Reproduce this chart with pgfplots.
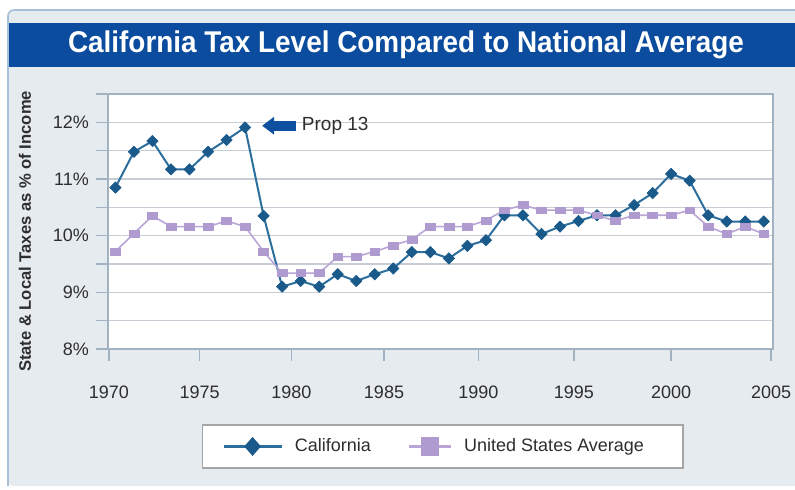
\documentclass[border=0pt]{standalone}
\usepackage{pgfplots}
\pgfplotsset{compat=1.18}
\usepackage{fontspec}
\setmainfont{Liberation Sans}
\usetikzlibrary{arrows.meta}
\definecolor{panelbg}{HTML}{E5EBEF}
\definecolor{panelborder}{HTML}{A7BFD8}
\definecolor{titleblue}{HTML}{0B4C9E}
\definecolor{gridc}{HTML}{C6CDD4}
\definecolor{axc}{HTML}{A3B2C0}
\definecolor{labelc}{HTML}{2E2E2E}
\definecolor{caline}{HTML}{2C6E9C}
\definecolor{camark}{HTML}{1A5A8A}
\definecolor{usline}{HTML}{B9A6D6}
\definecolor{usmark}{HTML}{B09BD0}
\definecolor{arrowc}{HTML}{0E4FA0}

\pgfplotstableread{
year ca
1970 10.85
1971 11.48
1972 11.67
1973 11.17
1974 11.17
1975 11.48
1976 11.69
1977 11.91
1978 10.35
1979 9.10
1980 9.20
1981 9.10
1982 9.32
1983 9.20
1984 9.32
1985 9.42
1986 9.71
1987 9.71
1988 9.60
1989 9.82
1990 9.92
1991 10.36
1992 10.36
1993 10.03
1994 10.16
1995 10.26
1996 10.36
1997 10.36
1998 10.54
1999 10.75
2000 11.09
2001 10.97
2002 10.36
2003 10.25
2004 10.25
2005 10.25
}\catable

\pgfplotstableread{
year us
1970 9.72
1971 10.04
1972 10.35
1973 10.16
1974 10.16
1975 10.16
1976 10.26
1977 10.16
1978 9.72
1979 9.34
1980 9.34
1981 9.34
1982 9.63
1983 9.63
1984 9.72
1985 9.83
1986 9.93
1987 10.16
1988 10.16
1989 10.16
1990 10.27
1991 10.45
1992 10.54
1993 10.45
1994 10.45
1995 10.45
1996 10.36
1997 10.26
1998 10.36
1999 10.36
2000 10.36
2001 10.45
2002 10.16
2003 10.03
2004 10.16
2005 10.03
}\ustable

\begin{document}
\begin{tikzpicture}
\useasboundingbox (0,0) rectangle (397.5pt,244.5pt);
\fill[white] (0,0) rectangle (397.5pt,244.5pt);
\fill[panelbg, rounded corners=3pt] (4pt,1.5pt) rectangle (402pt,239.5pt);
\draw[panelborder, line width=0.8pt, rounded corners=3pt] (4pt,1.5pt) -- (4pt,239.5pt) -- (402pt,239.5pt);
\fill[titleblue] (4.4pt,211.2pt) rectangle (397.5pt,233.2pt);
\node[text=white, font=\bfseries\fontsize{15}{17}\selectfont] at (203pt,222.2pt) {\scalebox{0.93}[1]{California Tax Level Compared to National Average}};
\node[rotate=90, text=labelc, font=\bfseries\fontsize{8.3}{9}\selectfont] at (12.5pt,128.8pt) {State \& Local Taxes as \% of Income};
% legend box
\filldraw[fill=white, draw=gray!70, line width=0.6pt] (101.3pt,10.5pt) rectangle (341.5pt,32pt);

\begin{axis}[
  at={(54pt,70pt)}, anchor=south west,
  scale only axis, width=332.5pt, height=127.5pt,
  xmin=1969.6, xmax=2005.5, ymin=8, ymax=12.5,
  xtick={1969.65,1974.55,1979.5,1984.5,1989.6,1994.75,2000,2005.4},
  xticklabels={1970,1975,1980,1985,1990,1995,2000,2005},
  ytick={8,8.5,...,12.5},
  yticklabels={8\%,,9\%,,10\%,,11\%,,12\%,},
  xtick pos=bottom, ytick pos=left,
  tick align=outside, major tick length=6pt,
  tick style={draw=axc, line width=0.8pt},
  ymajorgrids, grid style={draw=gridc, line width=0.8pt},
  axis background/.style={fill=white},
  axis line style={draw=axc, line width=0.8pt},
  ticklabel style={font=\fontsize{9}{10}\selectfont, text=labelc},
  xticklabel style={yshift=-9pt},
  legend columns=2,
  legend style={at={(0.1714,-0.382)}, anchor=west, draw=none, fill=none,
    inner sep=0pt, nodes={inner sep=0pt, font=\fontsize{9}{10}\selectfont, text=labelc},
    /tikz/every odd column/.append style={column sep=6pt},
    /tikz/every even column/.append style={column sep=18.5pt}},
]
\addplot[caline, line width=1pt, mark=square*, mark size=2pt,
  mark options={rotate=45, fill=camark, draw=camark, line width=0.3pt},
  legend image code/.code={\draw[caline, line width=1.2pt] (0pt,0pt) -- (29pt,0pt);
    \fill[camark] (14.5pt,0pt) +(0,4pt) -- +(3.5pt,0) -- +(0,-4pt) -- +(-3.5pt,0) -- cycle;}]
  table[x=year, y=ca] {\catable};
\addlegendentry{California}
\addplot[usline, line width=0.8pt, mark=square*, mark size=1.9pt,
  mark options={xscale=1.3, yscale=0.9, fill=usmark, draw=usmark, line width=0.2pt},
  legend image code/.code={\draw[usline, line width=1.2pt] (0pt,0pt) -- (21pt,0pt);
    \fill[usmark] (6.5pt,-4.5pt) rectangle (14.5pt,4.5pt);}]
  table[x=year, y=us] {\ustable};
\addlegendentry{United States Average}
\draw[arrowc, line width=5pt, -{Triangle[length=6pt 0 0, width=8.5pt 0 0]}]
  (axis cs:1979.75,11.94) -- (axis cs:1977.92,11.94);
\node[anchor=west, inner sep=0pt, text=labelc, font=\fontsize{9.5}{11}\selectfont] at (axis cs:1980.05,11.94) {Prop 13};
\end{axis}
\end{tikzpicture}
\end{document}
